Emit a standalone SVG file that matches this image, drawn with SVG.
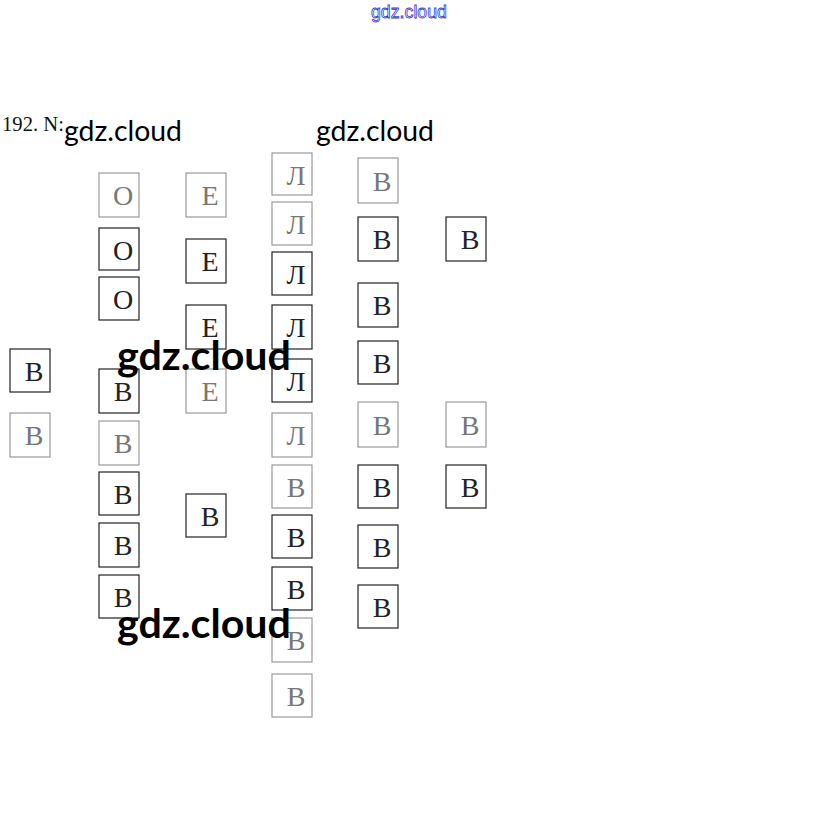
<svg xmlns="http://www.w3.org/2000/svg" width="818" height="833" viewBox="0 0 818 833">
<style>
.b rect{fill:#fff;stroke:#222;stroke-width:1.2}
.b text{font-family:"Liberation Serif","Times New Roman",serif;font-size:28px;fill:#222;text-anchor:middle}
.f rect{stroke:#999}
.f text{fill:#777}
.wm{font-family:Lato,"Open Sans",sans-serif;fill:#000}
</style>
<rect width="818" height="833" fill="#fff"/>
<text x="371" y="18" font-family="Liberation Sans,Arial,sans-serif" font-size="18" fill="#fff" stroke="#3a3ad0" stroke-width="0.8" textLength="76" lengthAdjust="spacingAndGlyphs">gdz.cloud</text>
<text x="2" y="131" font-family="Liberation Serif,serif" font-size="21" fill="#111" textLength="62" lengthAdjust="spacingAndGlyphs">192. N:</text>
<g id="c1">
<g id="n1" class="b"><rect x="10" y="349" width="40" height="43"/><text x="34" y="381">В</text></g>
<g id="n2" class="b f"><rect x="10" y="413" width="40" height="44"/><text x="34" y="445">В</text></g>
</g>
<g id="c2">
<g id="n3" class="b f"><rect x="99" y="173" width="40" height="44"/><text x="123" y="205">О</text></g>
<g id="n4" class="b"><rect x="99" y="228" width="40" height="42"/><text x="123" y="260">О</text></g>
<g id="n5" class="b"><rect x="99" y="277" width="40" height="43"/><text x="123" y="309">О</text></g>
<g id="n6" class="b"><rect x="99" y="369" width="40" height="44"/><text x="123" y="401">В</text></g>
<g id="n7" class="b f"><rect x="99" y="421" width="40" height="44"/><text x="123" y="453">В</text></g>
<g id="n8" class="b"><rect x="99" y="472" width="40" height="43"/><text x="123" y="504">В</text></g>
<g id="n9" class="b"><rect x="99" y="523" width="40" height="44"/><text x="123" y="555">В</text></g>
<g id="n10" class="b"><rect x="99" y="575" width="40" height="43"/><text x="123" y="607">В</text></g>
</g>
<g id="c3">
<g id="n11" class="b f"><rect x="186" y="173" width="40" height="44"/><text x="210" y="205">Е</text></g>
<g id="n12" class="b"><rect x="186" y="239" width="40" height="44"/><text x="210" y="271">Е</text></g>
<g id="n13" class="b"><rect x="186" y="305" width="40" height="44"/><text x="210" y="337">Е</text></g>
<g id="n14" class="b f"><rect x="186" y="369" width="40" height="44"/><text x="210" y="401">Е</text></g>
<g id="n15" class="b"><rect x="186" y="494" width="40" height="43"/><text x="210" y="526">В</text></g>
</g>
<g id="c4">
<g id="n16" class="b f"><rect x="272" y="153" width="40" height="42"/><text x="296" y="185">Л</text></g>
<g id="n17" class="b f"><rect x="272" y="202" width="40" height="43"/><text x="296" y="234">Л</text></g>
<g id="n18" class="b"><rect x="272" y="252" width="40" height="43"/><text x="296" y="284">Л</text></g>
<g id="n19" class="b"><rect x="272" y="305" width="40" height="44"/><text x="296" y="337">Л</text></g>
<g id="n20" class="b"><rect x="272" y="359" width="40" height="43"/><text x="296" y="391">Л</text></g>
<g id="n21" class="b f"><rect x="272" y="413" width="40" height="44"/><text x="296" y="445">Л</text></g>
<g id="n22" class="b f"><rect x="272" y="465" width="40" height="43"/><text x="296" y="497">В</text></g>
<g id="n23" class="b"><rect x="272" y="515" width="40" height="43"/><text x="296" y="547">В</text></g>
<g id="n24" class="b"><rect x="272" y="567" width="40" height="43"/><text x="296" y="599">В</text></g>
<g id="n25" class="b f"><rect x="272" y="618" width="40" height="44"/><text x="296" y="650">В</text></g>
<g id="n26" class="b f"><rect x="272" y="674" width="40" height="43"/><text x="296" y="706">В</text></g>
</g>
<g id="c5">
<g id="n27" class="b f"><rect x="358" y="158" width="40" height="45"/><text x="382" y="191">В</text></g>
<g id="n28" class="b"><rect x="358" y="217" width="40" height="44"/><text x="382" y="249">В</text></g>
<g id="n29" class="b"><rect x="358" y="283" width="40" height="44"/><text x="382" y="315">В</text></g>
<g id="n30" class="b"><rect x="358" y="341" width="40" height="43"/><text x="382" y="373">В</text></g>
<g id="n31" class="b f"><rect x="358" y="402" width="40" height="45"/><text x="382" y="435">В</text></g>
<g id="n32" class="b"><rect x="358" y="465" width="40" height="43"/><text x="382" y="497">В</text></g>
<g id="n33" class="b"><rect x="358" y="525" width="40" height="43"/><text x="382" y="557">В</text></g>
<g id="n34" class="b"><rect x="358" y="585" width="40" height="43"/><text x="382" y="617">В</text></g>
</g>
<g id="c6">
<g id="n35" class="b"><rect x="446" y="217" width="40" height="44"/><text x="470" y="249">В</text></g>
<g id="n36" class="b f"><rect x="446" y="402" width="40" height="45"/><text x="470" y="435">В</text></g>
<g id="n37" class="b"><rect x="446" y="465" width="40" height="43"/><text x="470" y="497">В</text></g>
</g>
<g id="connectors"></g>
<g id="watermarks">
<text class="wm" x="64" y="141" font-size="28" textLength="118" lengthAdjust="spacingAndGlyphs">gdz.cloud</text>
<text class="wm" x="316" y="141" font-size="28" textLength="118" lengthAdjust="spacingAndGlyphs">gdz.cloud</text>
<text class="wm" x="117" y="370" font-size="41" font-weight="bold" textLength="174" lengthAdjust="spacingAndGlyphs">gdz.cloud</text>
<text class="wm" x="117" y="638" font-size="41" font-weight="bold" textLength="174" lengthAdjust="spacingAndGlyphs">gdz.cloud</text>
</g>
</svg>
